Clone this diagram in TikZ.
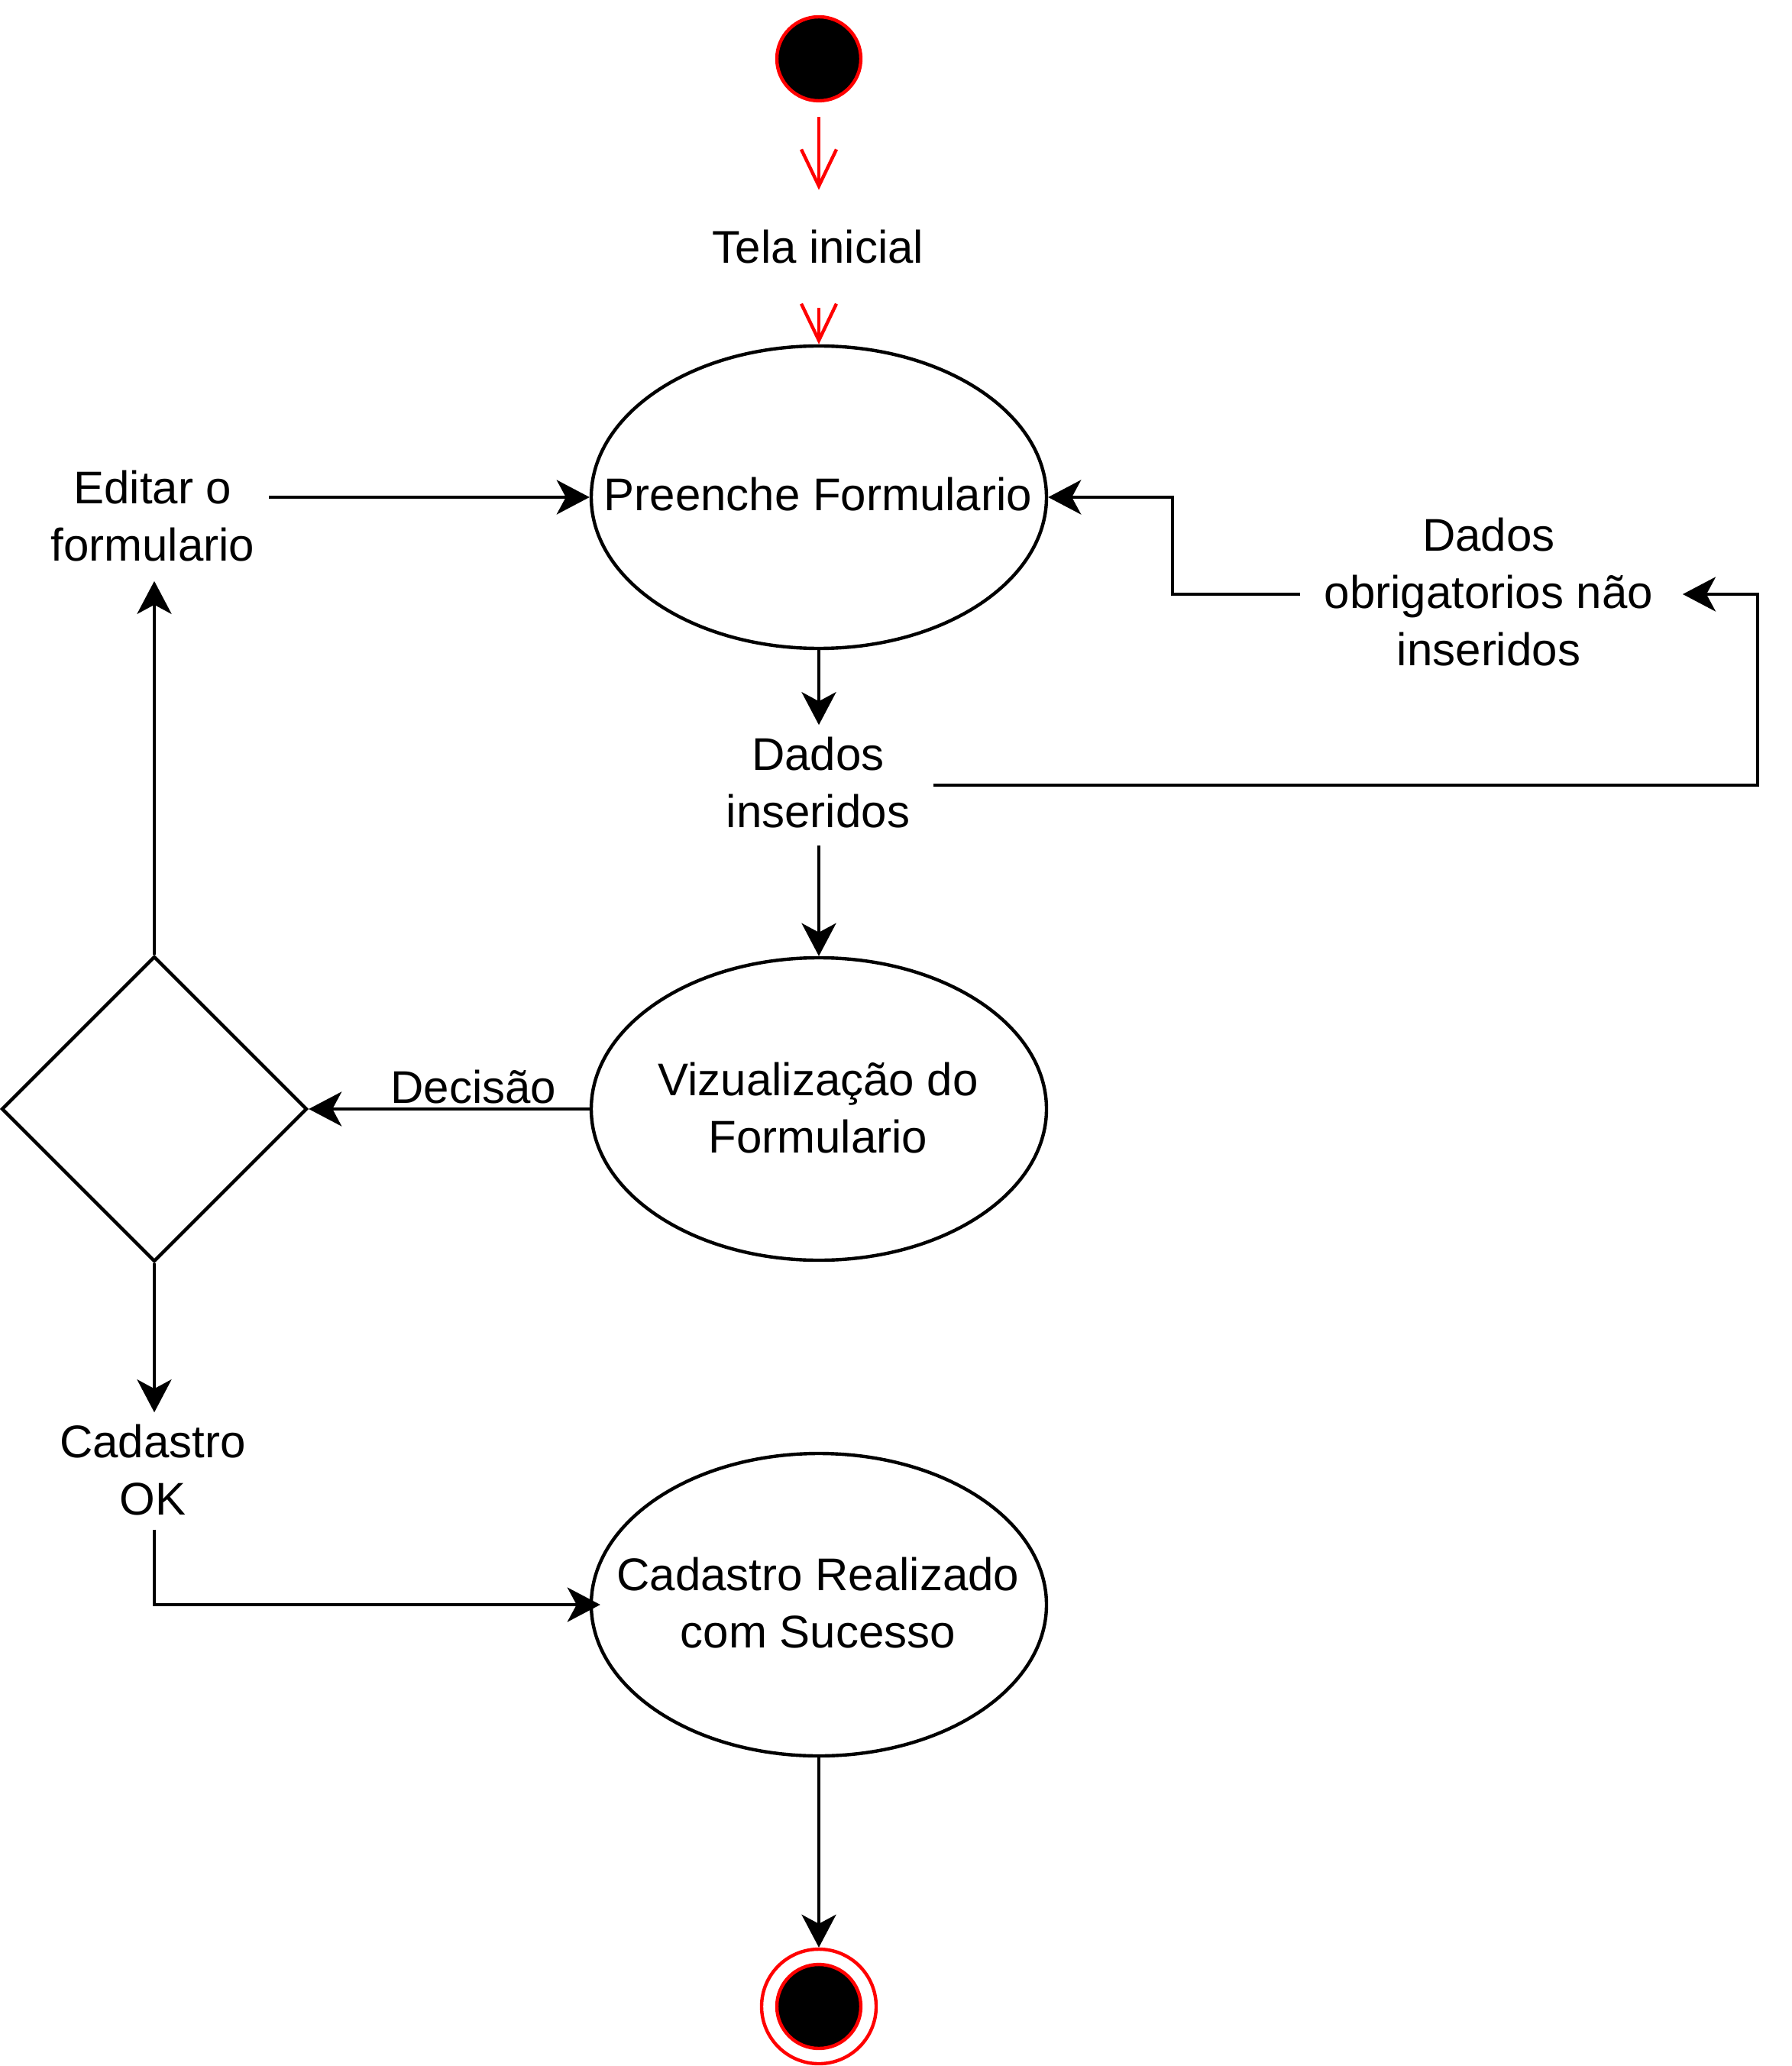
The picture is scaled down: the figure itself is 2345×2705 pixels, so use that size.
\documentclass[tikz,border=0pt]{standalone}
\usepackage{fontspec}
\setmainfont{Liberation Sans}
\usetikzlibrary{arrows.meta,shapes.geometric,calc}
\begin{document}
\begin{tikzpicture}[x=0.25pt,y=-0.25pt,
  lbl/.style={font=\fontsize{15pt}{18.75pt}\selectfont, align=center, inner sep=0pt},
  act/.style={draw=black, line width=1.1pt, ellipse, inner sep=0pt, minimum width=149pt, minimum height=99pt},
  arr/.style={draw=black, line width=1.1pt, -{Stealth[length=10.75pt,width=11.25pt,inset=3pt]}},
  redarr/.style={draw=red, line width=1.1pt, -{Straight Barb[length=12pt,width=11.5pt]}}
]
\useasboundingbox (0,0) rectangle (2345,2705);

% start
\node[circle, fill=black, draw=red, line width=1.1pt, inner sep=0pt, minimum size=27.5pt] (start) at (1072,77) {};
\node[lbl] (tela) at (1071,330) {\strut Tela inicial};

% activities
\node[act] (e1) at (1072,651) {};
\node[lbl] (t1) at (1071,654) {\strut Preenche Formulario};
\node[act] (e2) at (1072,1452) {};
\node[lbl] (t2) at (1071,1457) {\strut Vizualização do\\\strut Formulario};
\node[act] (e3) at (1072,2101) {};
\node[lbl] (t3) at (1071,2105) {\strut Cadastro Realizado\\\strut com Sucesso};

% labels
\node[lbl] (editar) at (200,682) {\strut Editar o\\\strut formulario};
\node[lbl] (dados) at (1071,1031) {\strut Dados\\\strut inseridos};
\node[lbl] (obrig) at (1949,782) {\strut Dados\\\strut obrigatorios não\\\strut inseridos};
\node[lbl] (decisao) at (620,1429) {\strut Decisão};
\node[lbl] (cad) at (200,1931) {\strut Cadastro\\\strut OK};

% decision
\node[diamond, draw=black, line width=1.1pt, inner sep=0pt, minimum width=100pt, minimum height=100pt] (dec) at (202,1452) {};

% end
\node[circle, draw=red, line width=1.1pt, inner sep=0pt, minimum size=37.5pt] (endouter) at (1072,2627) {};
\node[circle, fill=black, draw=red, line width=1.1pt, inner sep=0pt, minimum size=27.5pt] (endinner) at (1072,2627) {};

% routing coordinates
\coordinate (rx) at (2301,778);
\coordinate (mx) at (1535,778);

% connectors
\draw[redarr] ($(start.south)+(0,19)$) -- ($(start.south |- tela.north)+(0,-43)$);
\draw[redarr] ($(e1.north |- tela.south)+(0,35)$) -- (e1.north);
\draw[arr] ($(editar.east |- e1.west)+(18,0)$) -- (e1.west);
\draw[arr] (e1.south) -- ($(e1.south |- dados.north)+(0,-6)$);
\draw[arr] (e2.north |- dados.south) -- (e2.north);
\draw[arr] ($(dados.east)+(30,-3)$) -| (rx) -- ($(obrig.east |- rx)+(38,0)$);
\draw[arr] ($(obrig.west |- mx)+(-31,0)$) -- (mx) |- (e1.east);
\draw[arr] (e2.west) -- (dec.east);
\draw[arr] (dec.north) -- ($(dec.north |- editar.south)+(0,3)$);
\draw[arr] (dec.south) -- ($(dec.south |- cad.north)+(0,-6)$);
\draw[arr] ($(dec.south |- cad.south)+(0,-4)$) |- ($(e3.west)+(14,0)$);
\draw[arr] (e3.south) -- (endouter.north);
\end{tikzpicture}
\end{document}
